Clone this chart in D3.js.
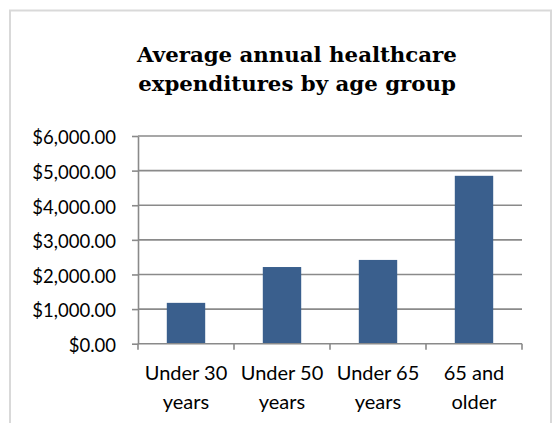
<!DOCTYPE html>
<html lang="en">
	<head>
		<meta charset="UTF-8" />
		<title>Average annual healthcare expenditures by age group</title>
		<style>
			body { margin: 0; background: #fff; }
			svg text { fill: #000; }
		</style>
	</head>
	<body>
		<div id="chart"></div>
		<script src="https://cdnjs.cloudflare.com/ajax/libs/d3/7.8.5/d3.min.js"></script>
		<script>
			var categories = [['Under 30', 'years'], ['Under 50', 'years'], ['Under 65', 'years'], ['65 and', 'older']];
			var values = [1180, 2215, 2420, 4850];
			var yTicks = [0, 1000, 2000, 3000, 4000, 5000, 6000];
			var titleLines = ['Average annual healthcare', 'expenditures by age group'];

			var width = 555;
			var height = 423;
			var plot = { left: 138, right: 522, top: 136, bottom: 343.7 };

			var svg = d3
				.select('#chart')
				.append('svg')
				.attr('width', width)
				.attr('height', height);

			// chart area border
			svg.append('rect')
				.attr('x', 10)
				.attr('y', 10.5)
				.attr('width', 541)
				.attr('height', 430)
				.attr('fill', '#fff')
				.attr('stroke', '#d9d9d9')
				.attr('stroke-width', 2);

			svg.append('text')
				.attr('text-anchor', 'middle')
				.style('font-family', '"DejaVu Serif", serif')
				.style('font-weight', 'bold')
				.style('font-size', '21.3px')
				.selectAll('tspan')
				.data(titleLines)
				.enter()
				.append('tspan')
				.attr('x', 297)
				.attr('y', function (d, i) { return 61.5 + i * 29; })
				.text(function (d) { return d; });

			var x = d3
				.scaleBand()
				.domain(d3.range(categories.length))
				.range([plot.left, plot.right])
				.paddingInner(0.6)
				.paddingOuter(0.3);

			var y = d3
				.scaleLinear()
				.domain([0, 6000])
				.range([plot.bottom, plot.top]);

			var fmt = d3.format('$,.2f');

			// gridlines
			svg.append('g')
				.selectAll('line')
				.data(yTicks.slice(1))
				.enter()
				.append('line')
				.attr('x1', plot.left)
				.attr('x2', plot.right)
				.attr('y1', function (d) { return y(d); })
				.attr('y2', function (d) { return y(d); })
				.attr('stroke', '#8a8a8a')
				.attr('stroke-width', 1.6);

			var yAxis = svg.append('g')
				.attr('transform', 'translate(' + plot.left + ',0)')
				.call(d3.axisLeft(y).tickValues(yTicks).tickFormat(fmt).tickSizeInner(6).tickSizeOuter(0).tickPadding(16));
			yAxis.selectAll('text')
				.style('font-family', 'Lato, sans-serif')
				.style('font-size', '18.5px')
				.attr('dy', '0.42em');

			// bars
			svg.append('g')
				.selectAll('rect')
				.data(values)
				.enter()
				.append('rect')
				.attr('x', function (d, i) { return x(i); })
				.attr('y', function (d) { return y(d); })
				.attr('width', x.bandwidth())
				.attr('height', function (d) { return y(0) - y(d); })
				.attr('fill', '#3a5f8d');

			// x axis with ticks on category boundaries
			var bounds = d3.scaleLinear().domain([0, categories.length]).range([plot.left, plot.right]);
			var xAxis = svg.append('g').attr('transform', 'translate(0,' + plot.bottom + ')');
			xAxis.append('line')
				.attr('x1', plot.left)
				.attr('x2', plot.right)
				.attr('stroke', '#8a8a8a')
				.attr('stroke-width', 1.6);
			xAxis.selectAll('.tick')
				.data(d3.range(categories.length + 1))
				.enter()
				.append('line')
				.attr('class', 'tick')
				.attr('x1', function (d) { return bounds(d); })
				.attr('x2', function (d) { return bounds(d); })
				.attr('y1', 0)
				.attr('y2', 6)
				.attr('stroke', '#8a8a8a')
				.attr('stroke-width', 1.6);
			xAxis.selectAll('.label')
				.data(categories)
				.enter()
				.append('text')
				.attr('class', 'label')
				.attr('text-anchor', 'middle')
				.style('font-family', 'Lato, sans-serif')
				.style('font-size', '20px')
				.selectAll('tspan')
				.data(function (d, i) { return d.map(function (t) { return { t: t, i: i }; }); })
				.enter()
				.append('tspan')
				.attr('x', function (d) { return x(d.i) + x.bandwidth() / 2; })
				.attr('y', function (d, j) { return 36 + j * 29; })
				.text(function (d) { return d.t; });

			yAxis.select('.domain').attr('stroke', '#8a8a8a').attr('stroke-width', 1.6);
			yAxis.selectAll('.tick line').attr('stroke', '#8a8a8a').attr('stroke-width', 1.6);
		</script>
	</body>
</html>
